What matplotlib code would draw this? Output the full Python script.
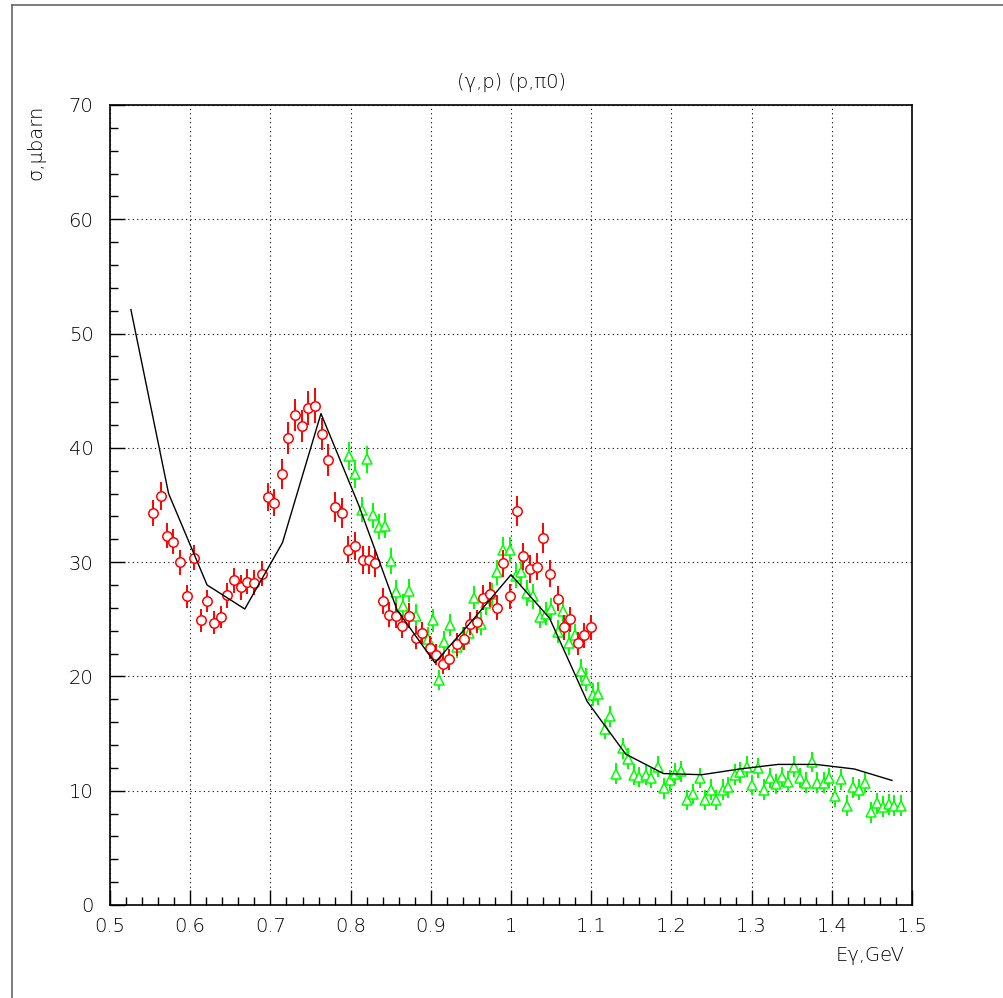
import matplotlib
matplotlib.use("Agg")
import matplotlib.pyplot as plt
from matplotlib.lines import Line2D
from matplotlib.ticker import MultipleLocator

plt.rcParams['font.family'] = ['Liberation Sans Narrow', 'DejaVu Sans']

# (gamma,p) data set 1 - red circles
e_red = [0.554, 0.563, 0.571, 0.579, 0.587, 0.596, 0.605, 0.613, 0.621, 0.630,
         0.638, 0.646, 0.655, 0.663, 0.671, 0.680, 0.689, 0.697, 0.705, 0.714,
         0.722, 0.731, 0.739, 0.747, 0.756, 0.764, 0.772, 0.781, 0.789, 0.797,
         0.806, 0.815, 0.823, 0.831, 0.840, 0.848, 0.856, 0.864, 0.873, 0.882,
         0.889, 0.899, 0.907, 0.915, 0.923, 0.932, 0.941, 0.949, 0.957, 0.965,
         0.974, 0.982, 0.990, 0.999, 1.007, 1.015, 1.024, 1.032, 1.040, 1.049,
         1.058, 1.066, 1.074, 1.083, 1.091, 1.100]
s_red = [34.3, 35.8, 32.3, 31.8, 30.0, 27.0, 30.4, 24.9, 26.6, 24.7,
         25.2, 27.1, 28.4, 27.8, 28.3, 28.2, 29.0, 35.7, 35.2, 37.7,
         40.9, 42.9, 41.9, 43.5, 43.7, 41.2, 38.9, 34.8, 34.3, 31.1,
         31.4, 30.2, 30.2, 29.9, 26.6, 25.4, 25.3, 24.4, 25.3, 23.4,
         23.8, 22.5, 21.9, 21.1, 21.5, 22.8, 23.3, 24.6, 24.8, 26.9,
         27.2, 26.0, 29.9, 27.0, 34.5, 30.5, 29.4, 29.6, 32.1, 29.0,
         26.8, 24.3, 25.0, 22.9, 23.6, 24.3]
err_red = [1.1, 1.2, 1.1, 1.1, 1.1, 1.0, 1.1, 1.0, 1.0, 1.0,
           1.0, 1.1, 1.1, 1.1, 1.1, 1.1, 1.1, 1.2, 1.2, 1.3,
           1.4, 1.4, 1.4, 1.5, 1.5, 1.4, 1.4, 1.3, 1.3, 1.2,
           1.2, 1.2, 1.2, 1.2, 1.1, 1.1, 1.1, 1.0, 1.1, 1.0,
           1.0, 1.0, 0.9, 0.9, 0.9, 1.0, 1.0, 1.0, 1.0, 1.1,
           1.1, 1.1, 1.2, 1.1, 1.3, 1.2, 1.2, 1.2, 1.3, 1.2,
           1.1, 1.1, 1.1, 1.0, 1.1, 1.1]

# data set 2 - green triangles
e_grn = [0.798, 0.806, 0.814, 0.821, 0.828, 0.835, 0.843, 0.850, 0.857, 0.865,
         0.873, 0.881, 0.889, 0.896, 0.903, 0.910, 0.917, 0.924, 0.932, 0.940,
         0.948, 0.954, 0.962, 0.969, 0.976, 0.983, 0.990, 0.999, 1.006, 1.013,
         1.020, 1.028, 1.036, 1.043, 1.050, 1.058, 1.065, 1.072, 1.080, 1.087,
         1.094, 1.102, 1.109, 1.117, 1.124, 1.131, 1.139, 1.146, 1.153, 1.160,
         1.168, 1.175, 1.183, 1.191, 1.198, 1.205, 1.212, 1.220, 1.227, 1.235,
         1.242, 1.249, 1.256, 1.264, 1.271, 1.279, 1.286, 1.294, 1.301, 1.308,
         1.316, 1.323, 1.330, 1.338, 1.345, 1.353, 1.360, 1.368, 1.375, 1.382,
         1.390, 1.397, 1.404, 1.411, 1.419, 1.426, 1.434, 1.441, 1.449, 1.456,
         1.464, 1.471, 1.478, 1.486]
s_grn = [39.3, 37.7, 34.6, 39.0, 34.1, 33.1, 33.2, 30.1, 27.4, 26.2,
         27.5, 25.3, 23.8, 23.3, 24.9, 19.7, 23.0, 24.5, 22.6, 23.3,
         23.8, 26.9, 24.6, 26.4, 27.2, 29.1, 31.1, 31.1, 28.8, 29.1,
         27.3, 27.0, 25.2, 25.5, 25.9, 23.9, 25.7, 22.9, 23.6, 20.5,
         19.7, 18.4, 18.5, 15.4, 16.5, 11.5, 13.7, 12.8, 11.4, 11.2,
         11.4, 11.1, 12.1, 10.2, 10.9, 11.5, 11.7, 9.2, 9.7, 11.1,
         9.2, 10.1, 9.2, 10.1, 10.3, 11.4, 11.6, 12.1, 10.5, 12.0,
         10.1, 11.1, 10.6, 11.2, 10.8, 12.1, 11.1, 10.7, 12.5, 10.7,
         10.7, 11.1, 9.5, 11.0, 8.7, 10.3, 10.1, 10.7, 8.1, 8.9,
         8.6, 8.8, 8.7, 8.7]
err_grn = [1.2, 1.2, 1.1, 1.2, 1.1, 1.1, 1.1, 1.1, 1.0, 1.0,
           1.0, 1.0, 1.0, 1.0, 1.0, 0.9, 1.0, 1.0, 1.0, 1.0,
           1.0, 1.0, 1.0, 1.0, 1.0, 1.1, 1.1, 1.1, 1.1, 1.1,
           1.1, 1.1, 1.0, 1.0, 1.0, 1.0, 1.0, 1.0, 1.0, 1.0,
           1.0, 1.0, 1.0, 0.9, 0.9, 0.9, 0.9, 0.9, 0.9, 0.9,
           0.9, 0.9, 0.9, 0.9, 0.9, 0.9, 0.9, 0.9, 0.9, 0.9,
           0.9, 0.9, 0.9, 0.9, 0.9, 0.9, 0.9, 0.9, 0.9, 0.9,
           0.9, 0.9, 0.9, 0.9, 0.9, 0.9, 0.9, 0.9, 0.9, 0.9,
           0.9, 0.9, 0.9, 0.9, 0.9, 0.9, 0.9, 0.9, 0.9, 0.9,
           0.9, 0.9, 0.9, 0.9]

# model curve
e_fit = [0.526, 0.573, 0.621, 0.668, 0.715, 0.763, 0.810, 0.858, 0.905, 0.953,
         1.000, 1.048, 1.095, 1.143, 1.190, 1.238, 1.285, 1.333, 1.380, 1.428, 1.475]
s_fit = [52.1, 36.0, 28.0, 25.9, 31.7, 43.0, 35.0, 25.8, 21.2, 25.0,
         28.9, 25.1, 17.8, 13.2, 11.5, 11.4, 11.9, 12.3, 12.3, 11.9, 10.9]

fig = plt.figure(figsize=(10.04, 9.98), dpi=100)
ax = fig.add_axes([0.1096, 0.0932, 0.7988, 0.8016])

ax.errorbar(e_grn, s_grn, yerr=err_grn, fmt='^', color='#00ff00', ms=7,
            mfc='white', mec='#00ff00', mew=1.1, elinewidth=1.4, capsize=0, zorder=3)
ax.errorbar(e_red, s_red, yerr=err_red, fmt='o', color='#ff0000', ms=6.8,
            mfc='white', mec='#ff0000', mew=1.1, elinewidth=1.4, capsize=0, zorder=4)
ax.plot(e_fit, s_fit, color='black', lw=1.0, zorder=5)

ax.set_xlim(0.5, 1.5)
ax.set_ylim(0, 70)
ax.xaxis.set_major_locator(MultipleLocator(0.1))
ax.xaxis.set_minor_locator(MultipleLocator(0.02))
ax.yaxis.set_major_locator(MultipleLocator(10))
ax.yaxis.set_minor_locator(MultipleLocator(2))
ax.xaxis.set_major_formatter(plt.FuncFormatter(lambda v, p: ('%g' % round(v, 2))))
ax.tick_params(which='both', direction='in', colors='black', labelsize=14)
ax.tick_params(which='major', length=11, width=1.0)
ax.tick_params(which='minor', length=5.5, width=1.0)
ax.tick_params(axis='x', pad=9)
ax.tick_params(axis='y', pad=12)
for lab in ax.get_xticklabels() + ax.get_yticklabels():
    lab.set_fontweight('light')
ax.grid(True, which='major', color='black', lw=0.8, linestyle=(0, (1, 3)))
for sp in ax.spines.values():
    sp.set_linewidth(1.2)

ax.set_title('(γ,p) (p,π0)', fontsize=14, pad=12, fontweight='light')
fig.text(0.036, 0.895, 'σ,μbarn', rotation=90, fontsize=14, fontweight='light',
         ha='center', va='top')
fig.text(0.867, 0.043, 'Eγ,GeV', fontsize=14, fontweight='light',
         ha='center', va='center')

# outer frame
fig.add_artist(Line2D([0.012, 0.012], [0, 0.995], color='#666666', lw=1.2))
fig.add_artist(Line2D([0.012, 1.0], [0.995, 0.995], color='#666666', lw=1.2))

fig.savefig('out.png', dpi=100)
